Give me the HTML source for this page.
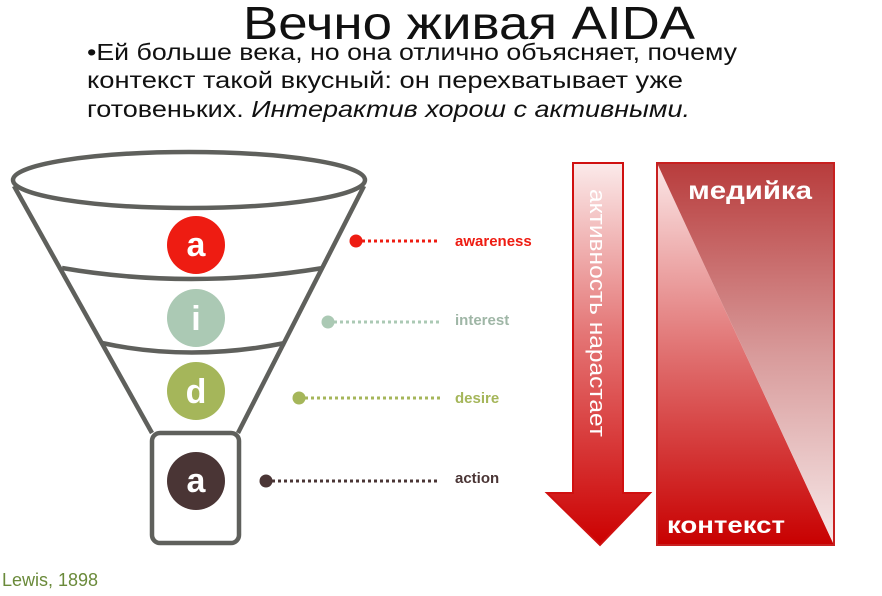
<!DOCTYPE html>
<html><head><meta charset="utf-8"><style>
html,body{margin:0;padding:0;background:#fff;width:882px;height:596px;overflow:hidden}
</style></head><body>
<svg width="882" height="596" xmlns="http://www.w3.org/2000/svg" font-family="Liberation Sans, DejaVu Sans, sans-serif">
<defs>
<linearGradient id="ar" x1="0" y1="0" x2="0" y2="1">
<stop offset="0" stop-color="#fbeaea"/><stop offset="0.45" stop-color="#e47575"/><stop offset="1" stop-color="#cc0000"/></linearGradient>
<linearGradient id="tl" x1="0" y1="0" x2="0" y2="1">
<stop offset="0" stop-color="#fbe8e8"/><stop offset="0.5" stop-color="#e07070"/><stop offset="1" stop-color="#c80000"/></linearGradient>
<linearGradient id="tr" x1="0" y1="0" x2="0" y2="1">
<stop offset="0" stop-color="#b83c3c"/><stop offset="0.5" stop-color="#d89a9a"/><stop offset="1" stop-color="#f7eaea"/></linearGradient>
</defs>
<text x="243" y="39" font-size="46" textLength="452" lengthAdjust="spacingAndGlyphs" fill="#111">Вечно живая AIDA</text>
<g font-size="23" fill="#111">
<text x="87" y="60" textLength="650" lengthAdjust="spacingAndGlyphs">•Ей больше века, но она отлично объясняет, почему</text>
<text x="87" y="88" textLength="596" lengthAdjust="spacingAndGlyphs">контекст такой вкусный: он перехватывает уже</text>
<text x="87" y="117" textLength="603" lengthAdjust="spacingAndGlyphs">готовеньких. <tspan font-style="italic">Интерактив хорош с активными.</tspan></text>
</g>
<g fill="none" stroke="#5f605c" stroke-width="4.5" stroke-linejoin="round">
<ellipse cx="189" cy="180" rx="176" ry="28"/>
<path d="M14,186 L152,433"/><path d="M364,186 L238,433"/>
<path d="M62,268 Q190,290 323,268"/>
<path d="M102,343 Q190,362 285,343"/>
<rect x="152" y="433" width="87" height="110" rx="8"/>
</g>
<circle cx="196" cy="245" r="29" fill="#ee1c12"/>
<circle cx="196" cy="318" r="29" fill="#abc9b4"/>
<circle cx="196" cy="391" r="29" fill="#a5b65a"/>
<circle cx="196" cy="481" r="29" fill="#4a3535"/>
<g font-size="34" font-weight="bold" fill="#fff" text-anchor="middle">
<text x="196" y="256">a</text><text x="196" y="330">i</text><text x="196" y="403">d</text><text x="196" y="492">a</text>
</g>
<g stroke-width="3" stroke-dasharray="3,3">
<line x1="362" y1="241" x2="440" y2="241" stroke="#ee1c12"/>
<line x1="334" y1="322" x2="440" y2="322" stroke="#abc9b4"/>
<line x1="305" y1="398" x2="440" y2="398" stroke="#a5b65a"/>
<line x1="272" y1="481" x2="440" y2="481" stroke="#4a3535"/>
</g>
<circle cx="356" cy="241" r="6.5" fill="#ee1c12"/>
<circle cx="328" cy="322" r="6.5" fill="#abc9b4"/>
<circle cx="299" cy="398" r="6.5" fill="#a5b65a"/>
<circle cx="266" cy="481" r="6.5" fill="#4a3535"/>
<g font-size="15" font-weight="bold">
<text x="455" y="246" fill="#ee1c12">awareness</text>
<text x="455" y="325" fill="#9fb6a6">interest</text>
<text x="455" y="403" fill="#a5b65a">desire</text>
<text x="455" y="483" fill="#4a3535">action</text>
</g>
<path d="M573,163 L623,163 L623,493 L650,493 L600,545 L547,493 L573,493 Z" fill="url(#ar)" stroke="#d01010" stroke-width="2"/>
<text transform="translate(590,189) rotate(90)" font-size="22" fill="#fff" textLength="248" lengthAdjust="spacingAndGlyphs">активность нарастает</text>
<path d="M657,163 L834,545 L657,545 Z" fill="url(#tl)"/>
<path d="M657,163 L834,163 L834,545 Z" fill="url(#tr)"/>
<rect x="657" y="163" width="177" height="382" fill="none" stroke="#c82020" stroke-width="2"/>
<text x="688" y="199" font-size="25" font-weight="bold" fill="#fff" textLength="124" lengthAdjust="spacingAndGlyphs">медийка</text>
<text x="667" y="533" font-size="23" font-weight="bold" fill="#fff" textLength="118" lengthAdjust="spacingAndGlyphs">контекст</text>
<text x="2" y="586" font-size="18" fill="#6a8a3a">Lewis, 1898</text>
</svg>
</body></html>
